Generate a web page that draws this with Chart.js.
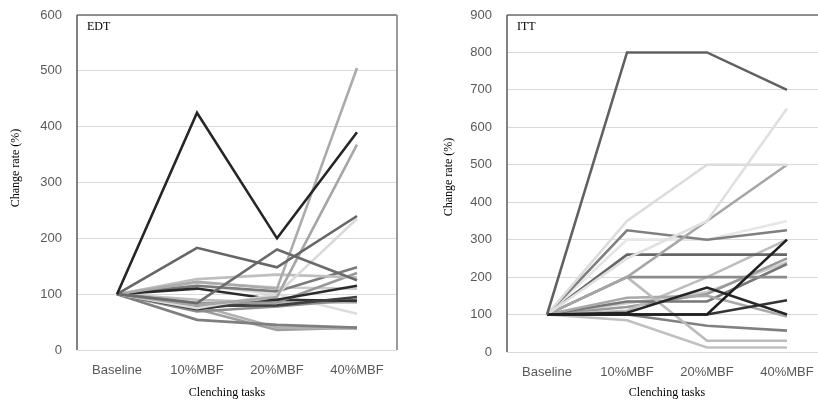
<!DOCTYPE html>
<html>
<head>
<meta charset="utf-8">
<script src="https://cdn.jsdelivr.net/npm/chart.js@4.4.1/dist/chart.umd.min.js"></script>
<style>
  html, body { margin: 0; padding: 0; background: #fff; }
  #wrap { position: relative; width: 818px; height: 403px; overflow: hidden; }
  #left { position: absolute; left: 0; top: 0; }
  #right { position: absolute; left: 410px; top: 0; }
</style>
</head>
<body>
<div id="wrap">
  <canvas id="left" width="410" height="403"></canvas>
  <canvas id="right" width="420" height="403"></canvas>
</div>
<script>
const categories = ['Baseline', '10%MBF', '20%MBF', '40%MBF'];

// EDT panel, one row per subject
const edtValues = [
  [100, 425, 200, 390],
  [100, 183, 148, 240],
  [100, 84, 180, 125],
  [100, 122, 110, 505],
  [100, 80, 95, 368],
  [100, 75, 100, 235],
  [100, 127, 135, 130],
  [100, 110, 90, 115],
  [100, 115, 105, 148],
  [100, 84, 85, 138],
  [100, 79, 80, 95],
  [100, 73, 90, 88],
  [100, 69, 78, 90],
  [100, 54, 45, 40],
  [100, 80, 40, 38],
  [100, 73, 36, 40],
  [100, 115, 100, 65],
  [100, 121, 112, 110],
  [100, 90, 85, 85]
];
const edtColors = ['#262626', '#666666', '#6b6b6b', '#ababab', '#a6a6a6', '#dadada', '#bfbfbf', '#2b2b2b',
  '#7a7a7a', '#999999', '#404040', '#333333', '#8c8c8c', '#7f7f7f', '#b0b0b0', '#9e9e9e', '#dddddd', '#cccccc', '#bbbbbb'];

// ITT panel
const ittValues = [
  [100, 800, 800, 700],
  [100, 100, 100, 300],
  [100, 105, 172, 100],
  [100, 100, 100, 138],
  [100, 350, 500, 500],
  [100, 250, 350, 650],
  [100, 200, 350, 500],
  [100, 325, 300, 325],
  [100, 300, 300, 350],
  [100, 260, 260, 260],
  [100, 200, 200, 200],
  [100, 200, 30, 30],
  [100, 85, 12, 12],
  [100, 100, 70, 57],
  [100, 145, 150, 95],
  [100, 135, 135, 235],
  [100, 110, 200, 300],
  [100, 120, 155, 250],
  [100, 130, 160, 240]
];
const ittColors = ['#616161', '#1f1f1f', '#262626', '#333333', '#dcdcdc', '#e0e0e0', '#a6a6a6', '#7f7f7f',
  '#e6e6e6', '#666666', '#8c8c8c', '#bbbbbb', '#c0c0c0', '#808080', '#a9a9a9', '#777777', '#bdbdbd', '#999999', '#cccccc'];

const frame = {
  id: 'frame',
  afterDatasetsDraw(chart, args, o) {
    const { ctx, chartArea: a } = chart;
    ctx.save();
    ctx.lineWidth = 1.5;
    ctx.strokeStyle = '#6f6f6f';
    ctx.beginPath();
    ctx.moveTo(a.left, a.top); ctx.lineTo(a.right, a.top);
    ctx.stroke();
    ctx.strokeStyle = '#9a9a9a';
    ctx.lineWidth = 2;
    ctx.beginPath();
    ctx.moveTo(a.right, a.top); ctx.lineTo(a.right, a.bottom);
    ctx.stroke();
    ctx.strokeStyle = '#595959';
    ctx.lineWidth = 1.5;
    ctx.beginPath();
    ctx.moveTo(a.left, a.top); ctx.lineTo(a.left, a.bottom);
    ctx.stroke();
    // panel label and axis titles
    ctx.fillStyle = '#000';
    ctx.font = '12px "Liberation Serif"';
    ctx.textBaseline = 'middle';
    ctx.textAlign = 'left';
    ctx.fillText(o.tag, a.left + 10, 27);
    ctx.textAlign = 'center';
    ctx.fillText('Clenching tasks', o.xTitle, 393);
    ctx.translate(o.yTitle[0], o.yTitle[1]);
    ctx.rotate(-Math.PI / 2);
    ctx.fillText('Change rate (%)', 0, 0);
    ctx.restore();
  }
};

function makeChart(id, values, colors, max, padRight, axisW, opts) {
  return new Chart(document.getElementById(id), {
    type: 'line',
    data: {
      labels: categories,
      datasets: values.map((v, i) => ({
        data: v,
        borderColor: colors[i],
        borderWidth: 2.6,
        pointRadius: 0,
        tension: 0,
        fill: false
      }))
    },
    options: {
      responsive: false,
      animation: false,
      layout: { padding: { top: 15, right: padRight, left: 0, bottom: 0 } },
      plugins: { legend: { display: false }, tooltip: { enabled: false }, frame: opts },
      scales: {
        x: {
          offset: true,
          grid: { display: false, drawTicks: false },
          border: { display: false },
          ticks: { color: '#595959', padding: 13, font: { family: '"Liberation Sans"', size: 13 } },
          afterFit: s => { s.height = opts.xH; s.paddingLeft = 0; s.paddingRight = 0; }
        },
        y: {
          min: 0, max: max,
          ticks: { stepSize: 100, color: '#595959', padding: 15, font: { family: '"Liberation Sans"', size: 13 } },
          grid: { color: '#d9d9d9', lineWidth: 1, drawTicks: false },
          border: { display: false },
          afterFit: s => { s.width = axisW; s.paddingTop = 0; s.paddingBottom = 0; }
        }
      }
    },
    plugins: [frame]
  });
}

makeChart('left', edtValues, edtColors, 600, 13, 77, { tag: 'EDT', xTitle: 227, yTitle: [16, 168], xH: 53 });
makeChart('right', ittValues, ittColors, 900, 3, 97, { tag: 'ITT', xTitle: 257, yTitle: [39, 177], xH: 51 });
</script>
</body>
</html>
